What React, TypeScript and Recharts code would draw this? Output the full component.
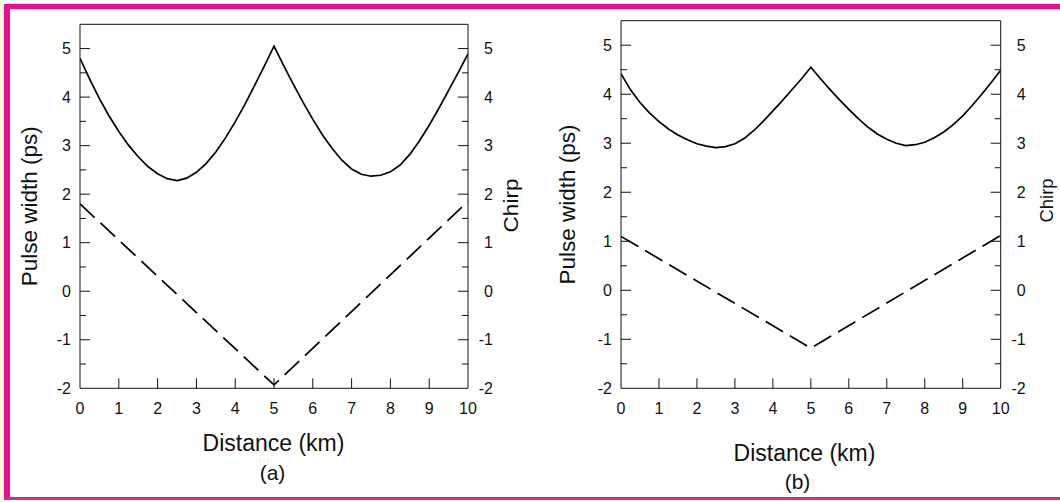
import { Label, Line, LineChart, ReferenceLine, XAxis, YAxis } from "recharts";

const FONT = '"Liberation Sans", Arial, Helvetica, sans-serif';
const MAGENTA = "#ea0c8c";

// distance grid of the pulse width curves (km)
const DISTANCE_KM = [
  0, 0.25, 0.5, 0.75, 1, 1.25, 1.5, 1.75, 2, 2.25, 2.5, 2.75, 3, 3.25, 3.5, 3.75, 4, 4.25, 4.5, 4.75,
  5, 5.25, 5.5, 5.75, 6, 6.25, 6.5, 6.75, 7, 7.25, 7.5, 7.75, 8, 8.25, 8.5, 8.75, 9, 9.25, 9.5, 9.75, 10,
];

// pulse width (ps), panel (a)
const PULSE_A = [
  4.8, 4.37, 3.97, 3.61, 3.29, 3.01, 2.77, 2.57, 2.42, 2.32, 2.28, 2.33, 2.45, 2.63, 2.87, 3.16, 3.49, 3.85, 4.24, 4.64,
  5.05, 4.65, 4.26, 3.89, 3.54, 3.22, 2.94, 2.7, 2.52, 2.41, 2.37, 2.39, 2.46, 2.6, 2.82, 3.1, 3.42, 3.77, 4.14, 4.51, 4.89,
];

// pulse width (ps), panel (b)
const PULSE_B = [
  4.42, 4.09, 3.83, 3.62, 3.44, 3.29, 3.17, 3.07, 2.99, 2.94, 2.91, 2.93, 2.99, 3.1, 3.26, 3.45, 3.66, 3.87, 4.09, 4.31,
  4.55, 4.32, 4.1, 3.89, 3.69, 3.5, 3.33, 3.19, 3.08, 3.0, 2.95, 2.97, 3.02, 3.11, 3.23, 3.38, 3.56, 3.77, 4.0, 4.24, 4.49,
];

// chirp is piecewise linear
const CHIRP_KM = [0, 5, 10];
const CHIRP_A = [1.8, -1.93, 1.85];
const CHIRP_B = [1.1, -1.18, 1.12];

const X_TICKS = [0, 1, 2, 3, 4, 5, 6, 7, 8, 9, 10];
const Y_TICKS = [-2, -1.5, -1, -0.5, 0, 0.5, 1, 1.5, 2, 2.5, 3, 3.5, 4, 4.5, 5];

type Box = { left: number; right: number; top: number; bottom: number };

type PanelProps = {
  pulse: number[];
  chirp: number[];
  box: Box; // plot area inside a 530x502 chart
  caption: string;
  xTitleY: number;
  captionY: number;
  xTitleX: number;
  captionX: number;
  leftTitleX: number;
  rightTitleX: number;
  chirpY: number;
  chirpSize: number;
  chirpLen: number;
};

function yTick(axisX: number, dir: 1 | -1, labelX: number) {
  return (props: any) => {
    const v = props.payload.value as number;
    const major = Number.isInteger(v);
    const len = major ? 10 : 6;
    return (
      <g>
        {v > -2 && (
          <line x1={axisX} x2={axisX + dir * len} y1={props.y} y2={props.y} stroke="#111" strokeWidth={1} />
        )}
        {major && (
          <text x={labelX} y={props.y} dy="0.35em" textAnchor="end" fontSize={16} fontFamily={FONT} fill="#111">
            {v}
          </text>
        )}
      </g>
    );
  };
}

function xTick(bottom: number) {
  return (props: any) => {
    const v = props.payload.value as number;
    return (
      <g>
        {v > 0 && v < 10 && (
          <line x1={props.x} x2={props.x} y1={bottom} y2={bottom - 10} stroke="#111" strokeWidth={1} />
        )}
        <text x={props.x} y={bottom + 20} dy="0.35em" textAnchor="middle" fontSize={16} fontFamily={FONT} fill="#111">
          {v}
        </text>
      </g>
    );
  };
}

function Panel(p: PanelProps) {
  const { box } = p;
  const pulseData = DISTANCE_KM.map((km, i) => ({ km, pw: p.pulse[i] }));
  const chirpData = CHIRP_KM.map((km, i) => ({ km, chirp: p.chirp[i] }));
  const midY = (box.top + box.bottom) / 2;

  return (
    <LineChart
      width={530}
      height={502}
      margin={{ top: box.top, left: box.left - 40, right: 530 - box.right - 40, bottom: 502 - box.bottom - 30 }}
    >
      <XAxis
        type="number"
        dataKey="km"
        domain={[0, 10]}
        ticks={X_TICKS}
        height={30}
        tickLine={false}
        tickSize={0}
        axisLine={{ stroke: "#111", strokeWidth: 1 }}
        tick={xTick(box.bottom)}
        allowDataOverflow
      >
        <Label
          content={() => (
            <g fontFamily={FONT} fill="#111" textAnchor="middle">
              <text x={p.xTitleX} y={p.xTitleY} dy="0.35em" fontSize={23}>
                Distance (km)
              </text>
              <text x={p.captionX} y={p.captionY} dy="0.35em" fontSize={21}>
                {p.caption}
              </text>
            </g>
          )}
        />
      </XAxis>
      <YAxis
        yAxisId="l"
        type="number"
        domain={[-2, 5.5]}
        ticks={Y_TICKS}
        width={40}
        tickLine={false}
        tickSize={0}
        axisLine={{ stroke: "#111", strokeWidth: 1 }}
        tick={yTick(box.left, 1, box.left - 9)}
        allowDataOverflow
      >
        <Label
          content={() => (
            <text
              transform={`translate(${p.leftTitleX},${midY}) rotate(-90)`}
              textAnchor="middle"
              dy="0.35em"
              fontSize={22.5}
              fontFamily={FONT}
              fill="#111"
            >
              Pulse width (ps)
            </text>
          )}
        />
      </YAxis>
      <YAxis
        yAxisId="r"
        orientation="right"
        type="number"
        domain={[-2, 5.5]}
        ticks={Y_TICKS}
        width={40}
        tickLine={false}
        tickSize={0}
        axisLine={{ stroke: "#111", strokeWidth: 1 }}
        tick={yTick(box.right, -1, box.right + 25)}
        allowDataOverflow
      >
        <Label
          content={() => (
            <text
              transform={`translate(${p.rightTitleX},${p.chirpY}) rotate(-90)`}
              textAnchor="middle"
              dy="0.35em"
              fontSize={p.chirpSize}
              textLength={p.chirpLen}
              lengthAdjust="spacingAndGlyphs"
              fontFamily={FONT}
              fill="#111"
            >
              Chirp
            </text>
          )}
        />
      </YAxis>
      <ReferenceLine yAxisId="l" y={5.5} stroke="#111" strokeWidth={1} />
      <Line
        yAxisId="l"
        data={pulseData}
        dataKey="pw"
        type="linear"
        stroke="#000"
        strokeWidth={1.7}
        dot={false}
        activeDot={false}
        isAnimationActive={false}
      />
      <Line
        yAxisId="r"
        data={chirpData}
        dataKey="chirp"
        type="linear"
        stroke="#000"
        strokeWidth={1.7}
        strokeDasharray="20 8"
        dot={false}
        activeDot={false}
        isAnimationActive={false}
      />
    </LineChart>
  );
}

export default function App() {
  return (
    <div style={{ position: "absolute", left: 0, top: 0, width: 1060, height: 502, background: "#fff", overflow: "hidden" }}>
      <div style={{ position: "absolute", left: 0, top: 0, width: 4, height: 502, background: "#fdf8e2" }} />
      <div style={{ position: "absolute", left: 4, top: 4, width: 1056, height: 5, background: MAGENTA }} />
      <div style={{ position: "absolute", left: 4, top: 4, width: 6, height: 496, background: MAGENTA }} />
      <div style={{ position: "absolute", left: 4, top: 497, width: 1056, height: 2.5, background: "#c8308e" }} />
      <div style={{ position: "absolute", left: 0, top: 0 }}>
        <Panel
          pulse={PULSE_A}
          chirp={CHIRP_A}
          box={{ left: 80, right: 468, top: 24.3, bottom: 388.3 }}
          caption="(a)"
          xTitleX={273.5}
          xTitleY={443}
          captionX={272.5}
          captionY={473}
          leftTitleX={29}
          rightTitleX={510.5}
          chirpY={205.5}
          chirpSize={20}
          chirpLen={54}
        />
      </div>
      <div style={{ position: "absolute", left: 530, top: 0 }}>
        <Panel
          pulse={PULSE_B}
          chirp={CHIRP_B}
          box={{ left: 91, right: 470.7, top: 20.7, bottom: 388.3 }}
          caption="(b)"
          xTitleX={274.5}
          xTitleY={452.5}
          captionX={267.5}
          captionY={482}
          leftTitleX={37}
          rightTitleX={516.5}
          chirpY={200.5}
          chirpSize={19}
          chirpLen={44}
        />
      </div>
    </div>
  );
}
